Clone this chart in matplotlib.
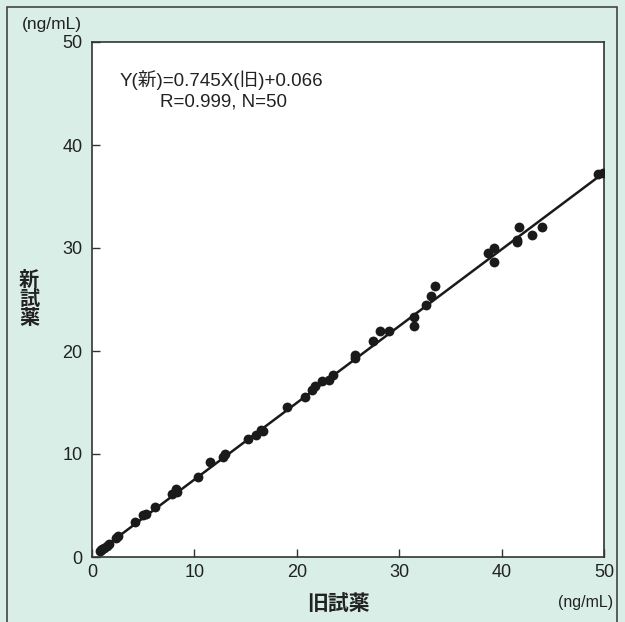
import matplotlib
matplotlib.use("Agg")
import matplotlib.pyplot as plt
from matplotlib.patches import Rectangle

plt.rcParams['font.family'] = ['Liberation Sans', 'Noto Sans CJK JP', 'DejaVu Sans']

old_reagent = [0.8, 0.9, 1.0, 1.2, 1.5, 1.7, 2.3, 2.5,
               4.2, 5.0, 5.3, 6.2,
               7.8, 8.2, 8.3,
               10.4, 11.5, 12.8, 13.0,
               15.2, 16.0, 16.5, 16.7,
               19.0, 20.8, 21.5, 21.8, 22.5, 23.1, 23.5,
               25.7, 25.7, 27.4, 28.1, 29.0,
               31.4, 31.4, 32.6, 33.1, 33.5,
               38.7, 39.3, 39.3, 41.5, 41.5, 41.7, 43.0, 43.9,
               49.4, 49.9]
new_reagent = [0.6, 0.65, 0.75, 0.85, 1.1, 1.3, 1.8, 2.0,
               3.4, 4.1, 4.2, 4.9,
               6.1, 6.6, 6.3,
               7.8, 9.2, 9.7, 10.0,
               11.5, 11.8, 12.3, 12.2,
               14.6, 15.5, 16.2, 16.6, 17.1, 17.2, 17.7,
               19.3, 19.6, 21.0, 21.9, 21.9,
               22.4, 23.3, 24.5, 25.3, 26.3,
               29.5, 28.6, 30.0, 30.6, 30.8, 32.0, 31.3, 32.0,
               37.2, 37.25]

slope = 0.745
intercept = 0.066
line_x = [0.6, 50]

xticks = [0, 10, 20, 30, 40, 50]
yticks = [0, 10, 20, 30, 40, 50]

W, H = 625, 622
fig = plt.figure(figsize=(W / 100, H / 100), dpi=100)
fig.patch.set_facecolor('#daeee8')

# outer border (bottom edge runs past the image)
fig.patches.append(Rectangle((7 / W, -10 / H), 610 / W, 625 / H, transform=fig.transFigure,
                             fill=False, edgecolor='#444444', linewidth=1.2))

ax = fig.add_axes([92 / W, 1 - 557 / H, 512 / W, 515 / H])
ax.set_facecolor('white')
ax.set_xlim(0, 50)
ax.set_ylim(0, 50)

ax.plot(line_x, [slope * v + intercept for v in line_x], color='#1a1a1a', lw=1.8, zorder=2)
ax.scatter(old_reagent, new_reagent, s=50, color='#1a1a1a', zorder=3, linewidths=0)

ax.set_xticks(xticks)
ax.set_yticks(yticks)
ax.tick_params(direction='in', length=6, width=1, color='#333333', labelsize=13,
               labelcolor='#222222')
ax.tick_params(axis='x', pad=5)
ax.tick_params(axis='y', pad=7)
for s in ax.spines.values():
    s.set_color('#333333')
    s.set_linewidth(1.2)

fig.text(120 / W, 1 - 80 / H, 'Y(新)=0.745X(旧)+0.066', fontsize=13.5,
         color='#222222', ha='left', va='center')
fig.text(160 / W, 1 - 102 / H, 'R=0.999, N=50', fontsize=13.5,
         color='#222222', ha='left', va='center')

fig.text(22 / W, 1 - 24 / H, '(ng/mL)', fontsize=12.5, color='#222222', ha='left', va='center')
fig.text(613 / W, 1 - 603 / H, '(ng/mL)', fontsize=11.5, color='#222222', ha='right', va='center')
fig.text(338 / W, 1 - 604 / H, '旧試薬', fontsize=15, fontweight='bold', color='#222222',
         ha='center', va='center')
fig.text(29 / W, 1 - 299 / H, '新\n試\n薬', fontsize=14.5, fontweight='bold', color='#222222',
         ha='center', va='center', linespacing=1.0)

fig.savefig('out.png', dpi=100, facecolor=fig.get_facecolor())
